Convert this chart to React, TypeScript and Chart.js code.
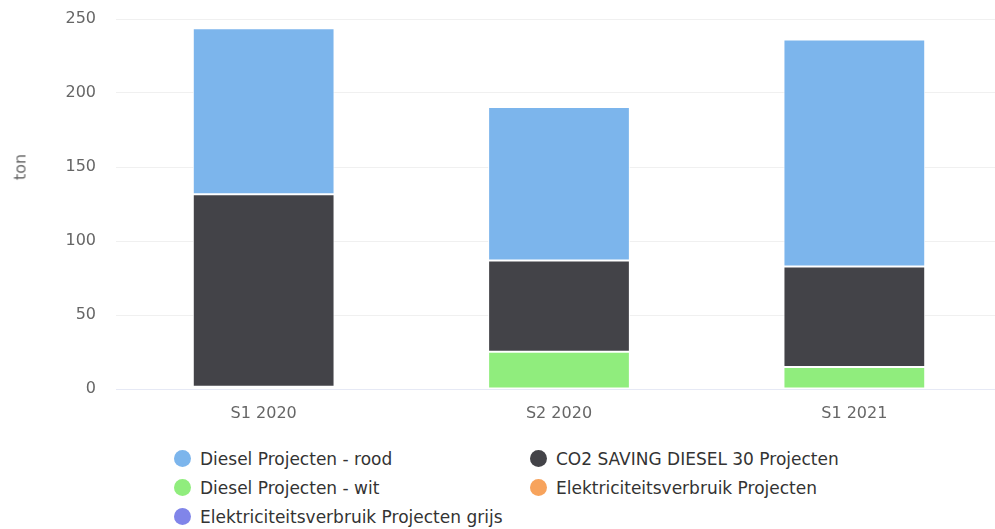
import React, { useEffect, useRef } from "react";
import { Chart, registerables } from "chart.js";

Chart.register(...registerables);

const categories = ["S1 2020", "S2 2020", "S1 2021"];
const seriesNames = [
  "Diesel Projecten - rood",
  "CO2 SAVING DIESEL 30 Projecten",
  "Diesel Projecten - wit",
  "Elektriciteitsverbruik Projecten",
  "Elektriciteitsverbruik Projecten grijs",
];
const seriesColors = ["#7cb5ec", "#434348", "#90ed7d", "#f7a35c", "#8085e9"];
const dieselRood = [112.1, 103.8, 153.4];
const co2Saving = [130.1, 61.6, 68.0];
const dieselWit = [1.5, 25.2, 14.8];
const elektriciteit = [0, 0, 0];
const elektriciteitGrijs = [0, 0, 0];
const yTicks = [0, 50, 100, 150, 200, 250];
const yTitle = "ton";
// stacking order: bottom first
const stackOrder = [2, 1, 0, 3, 4];
const seriesValues = [dieselRood, co2Saving, dieselWit, elektriciteit, elektriciteitGrijs];

const FONT = "'DejaVu Sans', sans-serif";

export default function App() {
  const ref = useRef<HTMLCanvasElement | null>(null);

  useEffect(() => {
    document.body.style.margin = "0";
    const canvas = ref.current;
    if (!canvas) return;
    const chart = new Chart(canvas, {
      type: "bar",
      data: {
        labels: categories,
        datasets: stackOrder.map((i) => ({
          label: seriesNames[i],
          data: seriesValues[i],
          backgroundColor: seriesColors[i],
          borderColor: "#ffffff",
          borderWidth: 1,
          borderSkipped: false,
          categoryPercentage: 1,
          barPercentage: 0.48,
          stack: "s",
        })),
      },
      options: {
        animation: false,
        responsive: false,
        maintainAspectRatio: false,
        layout: { padding: { left: 8, right: 0, top: 19, bottom: 0 } },
        plugins: {
          legend: { display: false },
          tooltip: { enabled: false },
        },
        scales: {
          x: {
            stacked: true,
            grid: { display: false },
            border: { display: true, color: "#e6e9f5", width: 1 },
            ticks: { color: "#666666", font: { family: FONT, size: 16 }, padding: 7 },
            afterFit: (s: any) => {
              s.height = 41;
            },
          },
          y: {
            stacked: true,
            min: 0,
            max: 250,
            afterBuildTicks: (s: any) => {
              s.ticks = yTicks.map((v) => ({ value: v }));
            },
            grid: { color: "#f0f0f0", lineWidth: 1, drawTicks: false },
            border: { display: false },
            ticks: { color: "#666666", font: { family: FONT, size: 16 }, padding: 20 },
            title: { display: false },
            afterFit: (s: any) => {
              s.width = 108;
              s.paddingTop = 0;
              s.paddingBottom = 0;
            },
          },
        },
      },
    });
    return () => chart.destroy();
  }, []);

  const legendOrder = [0, 1, 2, 3, 4];

  return (
    <div
      style={{
        position: "absolute",
        left: 0,
        top: 0,
        width: 995,
        height: 529,
        overflow: "hidden",
        background: "#ffffff",
      }}
    >
      <canvas ref={ref} width={1002} height={430} style={{ display: "block" }} />
      <div
        style={{
          position: "absolute",
          left: 20,
          top: 167,
          transform: "translate(-50%, -50%) rotate(-90deg)",
          fontFamily: FONT,
          fontSize: 16,
          color: "#666666",
          whiteSpace: "nowrap",
          lineHeight: "19px",
        }}
      >
        {yTitle}
      </div>
      <div
        style={{
          position: "absolute",
          left: 174,
          top: 447,
          display: "grid",
          gridTemplateColumns: "356px 360px",
          rowGap: 6,
          fontFamily: FONT,
          fontSize: 17,
          color: "#333333",
        }}
      >
        {legendOrder.map((i) => (
          <div key={i} style={{ display: "flex", alignItems: "center", height: 23 }}>
            <span
              style={{
                display: "inline-block",
                width: 17,
                height: 17,
                borderRadius: "50%",
                background: seriesColors[i],
                marginRight: 9,
              }}
            />
            <span>{seriesNames[i]}</span>
          </div>
        ))}
      </div>
    </div>
  );
}
